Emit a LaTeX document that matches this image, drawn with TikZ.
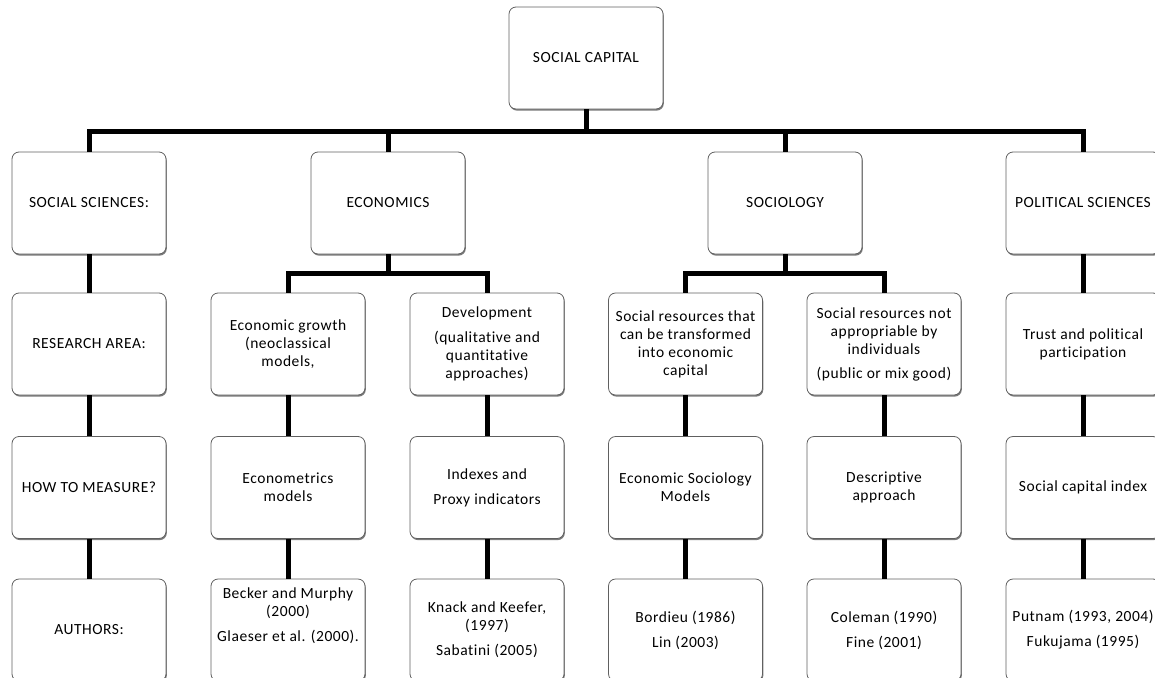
\documentclass[tikz,border=0pt]{standalone}
\usepackage{fontspec}
\setmainfont[LetterSpace=3.5,Ligatures=NoCommon]{Carlito}
\usetikzlibrary{shadows}
\begin{document}
\begin{tikzpicture}[x=1pt,y=-1pt,
  box/.style={draw=gray!75!black, line width=0.8pt, rounded corners=7pt, fill=white,
    minimum width=154pt, minimum height=102pt, inner sep=0pt, align=center,
    font=\fontsize{15.5}{18}\selectfont,
    drop shadow={shadow xshift=0.8pt, shadow yshift=-1.6pt, fill=black!65, opacity=0.8}},
  txt/.style={align=center, inner sep=0pt, font=\fontsize{15.5}{18}\selectfont},
  conn/.style={draw=black, line width=5pt}]
\useasboundingbox (0,0) rectangle (1155,677);
\clip (0,0) rectangle (1155,677);
% top
\node[box] (sc) at (586,58) {SOCIAL CAPITAL};
% row 1
\node[box] (ss) at (89,203) {SOCIAL SCIENCES:};
\node[box] (ec) at (388,203) {ECONOMICS};
\node[box] (so) at (785,203) {SOCIOLOGY};
\node[box] (ps) at (1083,203) {POLITICAL SCIENCES};
% row 2
\node[box] (ra) at (89,344) {RESEARCH AREA:};
\node[box] (eg) at (288,344) {Economic growth\\(neoclassical\\models,};
\node[box] (dv) at (487,344) {Development\\[7pt](qualitative and\\quantitative\\approaches)};
\node[box] (sr) at (685.5,344) {Social resources that\\can be transformed\\into economic\\capital};
\node[box] (sn) at (884,344) {Social resources not\\appropriable by\\individuals\\[6pt](public or mix good)};
\node[box] (tp) at (1083,344) {Trust and political\\participation};
% row 3
\node[box] (hm) at (89,487.5) {HOW TO MEASURE?};
\node[box] (em) at (288,487.5) {Econometrics\\models};
\node[box] (ix) at (487,487.5) {Indexes and\\[7pt]Proxy indicators};
\node[box] (es) at (685.5,487.5) {Economic Sociology\\Models};
\node[box] (da) at (884,487.5) {Descriptive\\approach};
\node[box] (sci) at (1083,487.5) {Social capital index};
% row 4
\node[box] (au) at (89,630) {AUTHORS:};
\node[box] (bm) at (288,630) {};
\node[txt] (bmt) at ([yshift=14pt]bm.center) {Becker and Murphy\\(2000)\\[7pt]Glaeser et al. (2000).};
\node[box] (kk) at (487,630) {Knack and Keefer,\\(1997)\\[7pt]Sabatini (2005)};
\node[box] (bo) at (685.5,630) {Bordieu (1986)\\[7pt]Lin (2003)};
\node[box] (co) at (884,630) {Coleman (1990)\\[7pt]Fine (2001)};
\node[box] (pu) at (1083,630) {Putnam (1993, 2004)\\[7pt]Fukujama (1995)};
% buses
\coordinate (bus) at (586,131);
\coordinate (ebus) at (388,273);
\coordinate (sbus) at (785,273);
\draw[conn] (sc.south) -- (bus);
\draw[conn] (ss.north) |- (bus) -| (ps.north);
\draw[conn] (ec.north) -- (ec.north |- bus);
\draw[conn] (so.north) -- (so.north |- bus);
\draw[conn] (ec.south) -- (ebus);
\draw[conn] (eg.north) |- (ebus) -| (dv.north);
\draw[conn] (so.south) -- (sbus);
\draw[conn] (sr.north) |- (sbus) -| (sn.north);
% columns
\draw[conn] (ss.south) -- (ra.north);
\draw[conn] (ps.south) -- (tp.north);
\foreach \a/\b in {ra/hm, hm/au, eg/em, em/bm, dv/ix, ix/kk, sr/es, es/bo, sn/da, da/co, tp/sci, sci/pu}
  \draw[conn] (\a.south) -- (\b.north);
\end{tikzpicture}
\end{document}
